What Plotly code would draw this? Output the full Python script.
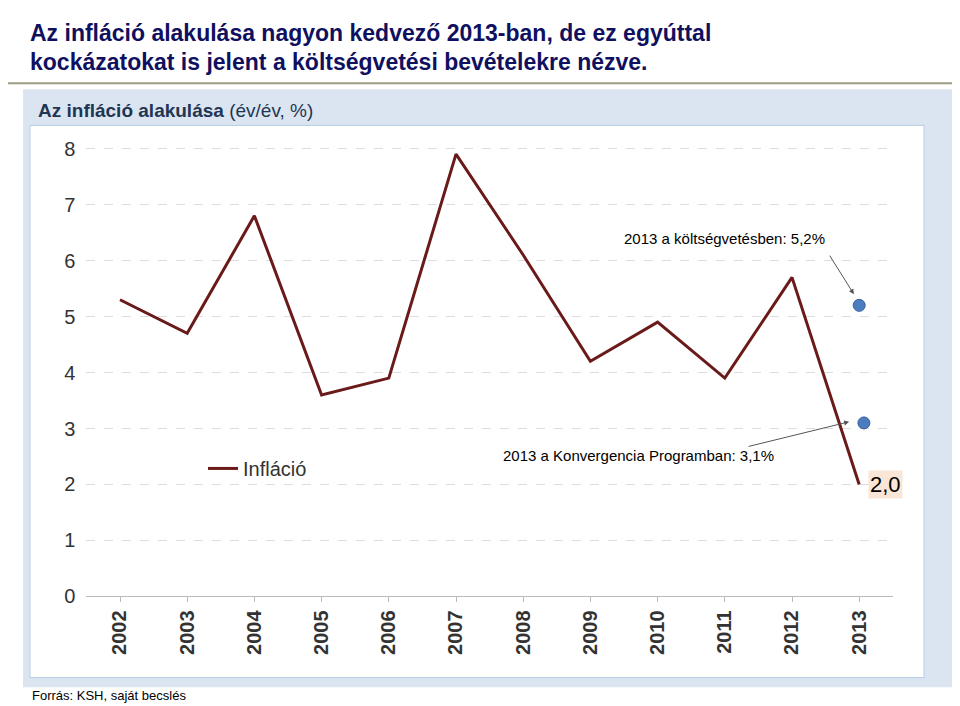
import plotly.graph_objects as go

years = list(range(2002, 2014))
inflation = [5.3, 4.7, 6.8, 3.6, 3.9, 7.9, 6.1, 4.2, 4.9, 3.9, 5.7, 2.0]
targets_x = [2013, 2013.07]
targets_y = [5.2, 3.1]
W, H = 960, 706
def px(x): return x / W
def py(y): return 1 - y / H

fig = go.Figure()
fig.add_trace(go.Scatter(x=years, y=inflation, mode="lines", name="Infláció",
                         line=dict(color="#6b1a1a", width=3)))
fig.add_trace(go.Scatter(x=targets_x, y=targets_y, mode="markers", showlegend=False,
                         marker=dict(color="#4a7cc0", size=12, line=dict(color="#3a5f9a", width=1))))

shapes = [
    dict(type="rect", xref="paper", yref="paper", x0=px(15), x1=px(955), y0=py(690), y1=py(78),
         fillcolor="#dbe5f1", line=dict(width=0), layer="below"),
    dict(type="rect", xref="paper", yref="paper", x0=px(22), x1=px(916), y0=py(680), y1=py(115),
         fillcolor="white", line=dict(color="#b8cce4", width=1), layer="below"),
    dict(type="line", xref="paper", yref="paper", x0=0, x1=1, y0=py(72), y1=py(72),
         line=dict(color="#9c9c80", width=2)),
]
anns = [
    dict(x=px(20), y=py(20), xref="paper", yref="paper", xanchor="left", yanchor="middle", showarrow=False,
         text="<b>Az infláció alakulása nagyon kedvező 2013-ban, de ez egyúttal</b>",
         font=dict(size=23, color="#101060", family="Liberation Sans Narrow, Arial")),
    dict(x=px(20), y=py(50), xref="paper", yref="paper", xanchor="left", yanchor="middle", showarrow=False,
         text="<b>kockázatokat is jelent a költségvetési bevételekre nézve.</b>",
         font=dict(size=23, color="#101060", family="Liberation Sans Narrow, Arial")),
    dict(x=px(28), y=py(100), xref="paper", yref="paper", xanchor="left", yanchor="middle", showarrow=False,
         text="<b>Az infláció alakulása</b> (év/év, %)",
         font=dict(size=19, color="#1f3552", family="Liberation Sans Narrow, Arial")),
    dict(x=px(22), y=py(698), xref="paper", yref="paper", xanchor="left", yanchor="middle", showarrow=False,
         text="Forrás: KSH, saját becslés", font=dict(size=13, color="black", family="Arial")),
    dict(x=2012.92, y=5.4, ax=-25, ay=-40, xref="x", yref="y",
         text="", showarrow=True, arrowhead=2, arrowsize=1, arrowwidth=1, arrowcolor="#555"),
    dict(x=px(614), y=py(231), xref="paper", yref="paper", xanchor="left", yanchor="middle", showarrow=False,
         text="2013 a költségvetésben: 5,2%", font=dict(size=15, color="black", family="Arial")),
    dict(x=2012.85, y=3.12, ax=-102, ay=25, xref="x", yref="y",
         text="", showarrow=True, arrowhead=2, arrowsize=1, arrowwidth=1, arrowcolor="#555"),
    dict(x=px(493), y=py(453), xref="paper", yref="paper", xanchor="left", yanchor="middle", showarrow=False,
         text="2013 a Konvergencia Programban: 3,1%", font=dict(size=15, color="black", family="Arial")),
    dict(x=px(877), y=py(482), xref="paper", yref="paper", xanchor="center", yanchor="middle", showarrow=False,
         text="2,0", bgcolor="#fae6d6", font=dict(size=22, color="black", family="Arial")),
]

fig.update_layout(
    width=W, height=H, margin=dict(l=0, r=0, t=0, b=0),
    paper_bgcolor="white", plot_bgcolor="rgba(0,0,0,0)",
    shapes=shapes, annotations=anns,
    legend=dict(x=px(195), y=py(466), xanchor="left", yanchor="middle", bgcolor="rgba(0,0,0,0)",
                font=dict(size=20, color="#333", family="Arial")),
    xaxis=dict(domain=[px(78.4), px(884.8)], range=[2001.5, 2013.5], tickmode="array", tickvals=years,
               ticktext=[f"<b>{y}</b>" for y in years], tickangle=-90,
               tickfont=dict(size=20, color="#333", family="Arial"), showgrid=False,
               showline=True, linecolor="#bbb", ticks="outside", ticklen=5, tickcolor="#bbb"),
    yaxis=dict(domain=[py(597), py(133)], range=[0, 8.1], dtick=1, tickfont=dict(size=20, color="#333", family="Arial"),
               gridcolor="#dddddd", griddash="dash", showline=False, zeroline=False, ticks="", ticklabelstandoff=10),
)
fig.write_html("out.html")
